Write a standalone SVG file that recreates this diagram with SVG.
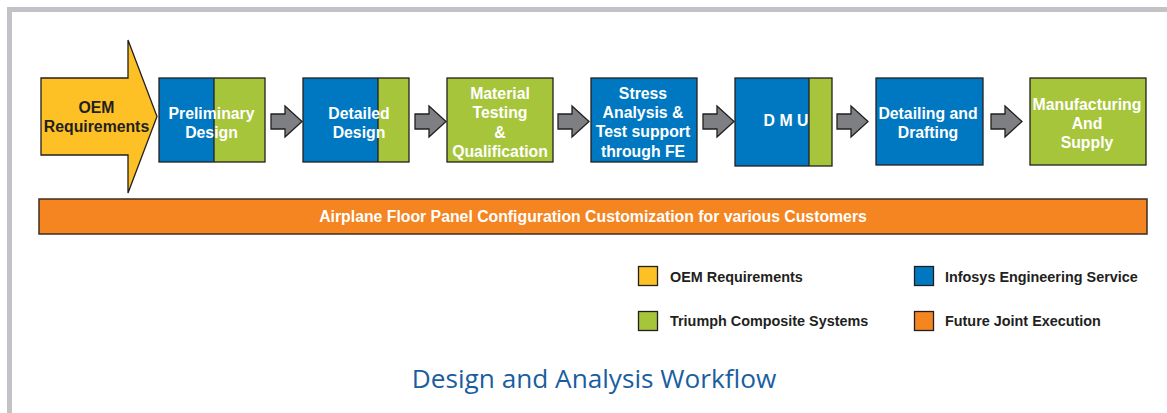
<svg xmlns="http://www.w3.org/2000/svg" width="1167" height="413" viewBox="0 0 1167 413">
<defs>
<style>
.frame{fill:none;stroke:#c3c3c7;stroke-width:5}
.box{stroke:#231f20;stroke-width:1.3}
.blue{fill:#0078c1}
.green{fill:#a6c53b}
.yellow{fill:#fdc126}
.orange{fill:#f48521}
.div{stroke:#231f20;stroke-width:1.3}
.gar{fill:#7e7f82;stroke:#231f20;stroke-width:1.3;stroke-linejoin:miter}
.nt{font-family:"Liberation Sans",Arial,Helvetica,sans-serif;font-weight:bold;font-size:15.8px;fill:#ffffff;text-anchor:middle}
.dk{fill:#231f20}
.lg{font-family:"Liberation Sans",Arial,Helvetica,sans-serif;font-weight:bold;font-size:14.4px;fill:#231f20}
.title{font-family:"Open Sans","Noto Sans",sans-serif;font-size:26.2px;fill:#1a5e9f;text-anchor:middle}
</style>
<polygon id="garrow" class="gar" points="0,-7.5 14,-7.5 14,-15.5 31,0 14,15.5 14,7.5 0,7.5"/>
</defs>
<rect width="1167" height="413" fill="#ffffff"/>
<path class="frame" d="M9.5,413 V9.5 H1167"/>

<g id="oem">
<polygon class="yellow box" points="41,78 128,78 128,40 157,116.5 128,193 128,155 41,155"/>
<text class="nt dk" x="96.5" y="113" font-size="15.2">OEM</text>
<text class="nt dk" x="96.5" y="132" font-size="15.2">Requirements</text>
</g>

<g id="preliminary">
<rect class="blue" x="159" y="78" width="55" height="84"/>
<rect class="green" x="214" y="78" width="51" height="84"/>
<line class="div" x1="214" y1="78" x2="214" y2="162"/>
<rect class="box" fill="none" x="159" y="78" width="106" height="84"/>
<text class="nt" x="211.5" y="119">Preliminary</text>
<text class="nt" x="211.5" y="138">Design</text>
</g>

<g id="detailed">
<rect class="blue" x="303" y="78" width="75" height="84"/>
<rect class="green" x="378" y="78" width="31" height="84"/>
<line class="div" x1="378" y1="78" x2="378" y2="162"/>
<rect class="box" fill="none" x="303" y="78" width="106" height="84"/>
<text class="nt" x="359" y="119">Detailed</text>
<text class="nt" x="359" y="138">Design</text>
</g>

<g id="material">
<rect class="green box" x="447" y="78" width="106" height="84"/>
<text class="nt" x="500" y="99">Material</text>
<text class="nt" x="500" y="118">Testing</text>
<text class="nt" x="500" y="138">&amp;</text>
<text class="nt" x="500" y="157">Qualification</text>
</g>

<g id="stress">
<rect class="blue box" x="591" y="78" width="106" height="84"/>
<text class="nt" x="643" y="99">Stress</text>
<text class="nt" x="643" y="118">Analysis &amp;</text>
<text class="nt" x="643" y="137">Test support</text>
<text class="nt" x="643" y="157">through FE</text>
</g>

<g id="dmu">
<rect class="blue" x="735" y="78" width="74" height="88"/>
<rect class="green" x="809" y="78" width="23" height="88"/>
<line class="div" x1="809" y1="78" x2="809" y2="166"/>
<rect class="box" fill="none" x="735" y="78" width="97" height="88"/>
<text class="nt" x="786" y="126">D M U</text>
</g>

<g id="detailing">
<rect class="blue box" x="876" y="78" width="107" height="87"/>
<text class="nt" x="928" y="119">Detailing and</text>
<text class="nt" x="928" y="138">Drafting</text>
</g>

<g id="manufacturing">
<rect class="green box" x="1030" y="78" width="116" height="87"/>
<text class="nt" x="1087" y="110">Manufacturing</text>
<text class="nt" x="1087" y="129">And</text>
<text class="nt" x="1087" y="148">Supply</text>
</g>

<g id="connectors">
<use href="#garrow" x="271" y="121.5"/>
<use href="#garrow" x="415" y="121.5"/>
<use href="#garrow" x="558" y="121.5"/>
<use href="#garrow" x="703" y="121.5"/>
<use href="#garrow" x="837" y="121.5"/>
<use href="#garrow" x="991" y="121.5"/>
</g>

<g id="bar">
<rect class="orange" x="39" y="199" width="1108" height="35" stroke="#3f2e22" stroke-width="1.5"/>
<text class="nt" x="593" y="222" font-size="16.3">Airplane Floor Panel Configuration Customization for various Customers</text>
</g>

<g id="legend">
<rect class="yellow box" x="638.5" y="266.5" width="19" height="19"/>
<text class="lg" x="670" y="282">OEM Requirements</text>
<rect class="blue box" x="914.5" y="266.5" width="19" height="19"/>
<text class="lg" x="945" y="282">Infosys Engineering Service</text>
<rect class="green box" x="638.5" y="311.5" width="19" height="19"/>
<text class="lg" x="670" y="326">Triumph Composite Systems</text>
<rect class="orange box" x="914.5" y="311.5" width="19" height="19"/>
<text class="lg" x="945" y="326">Future Joint Execution</text>
</g>

<text class="title" x="594" y="388">Design and Analysis Workflow</text>
</svg>
